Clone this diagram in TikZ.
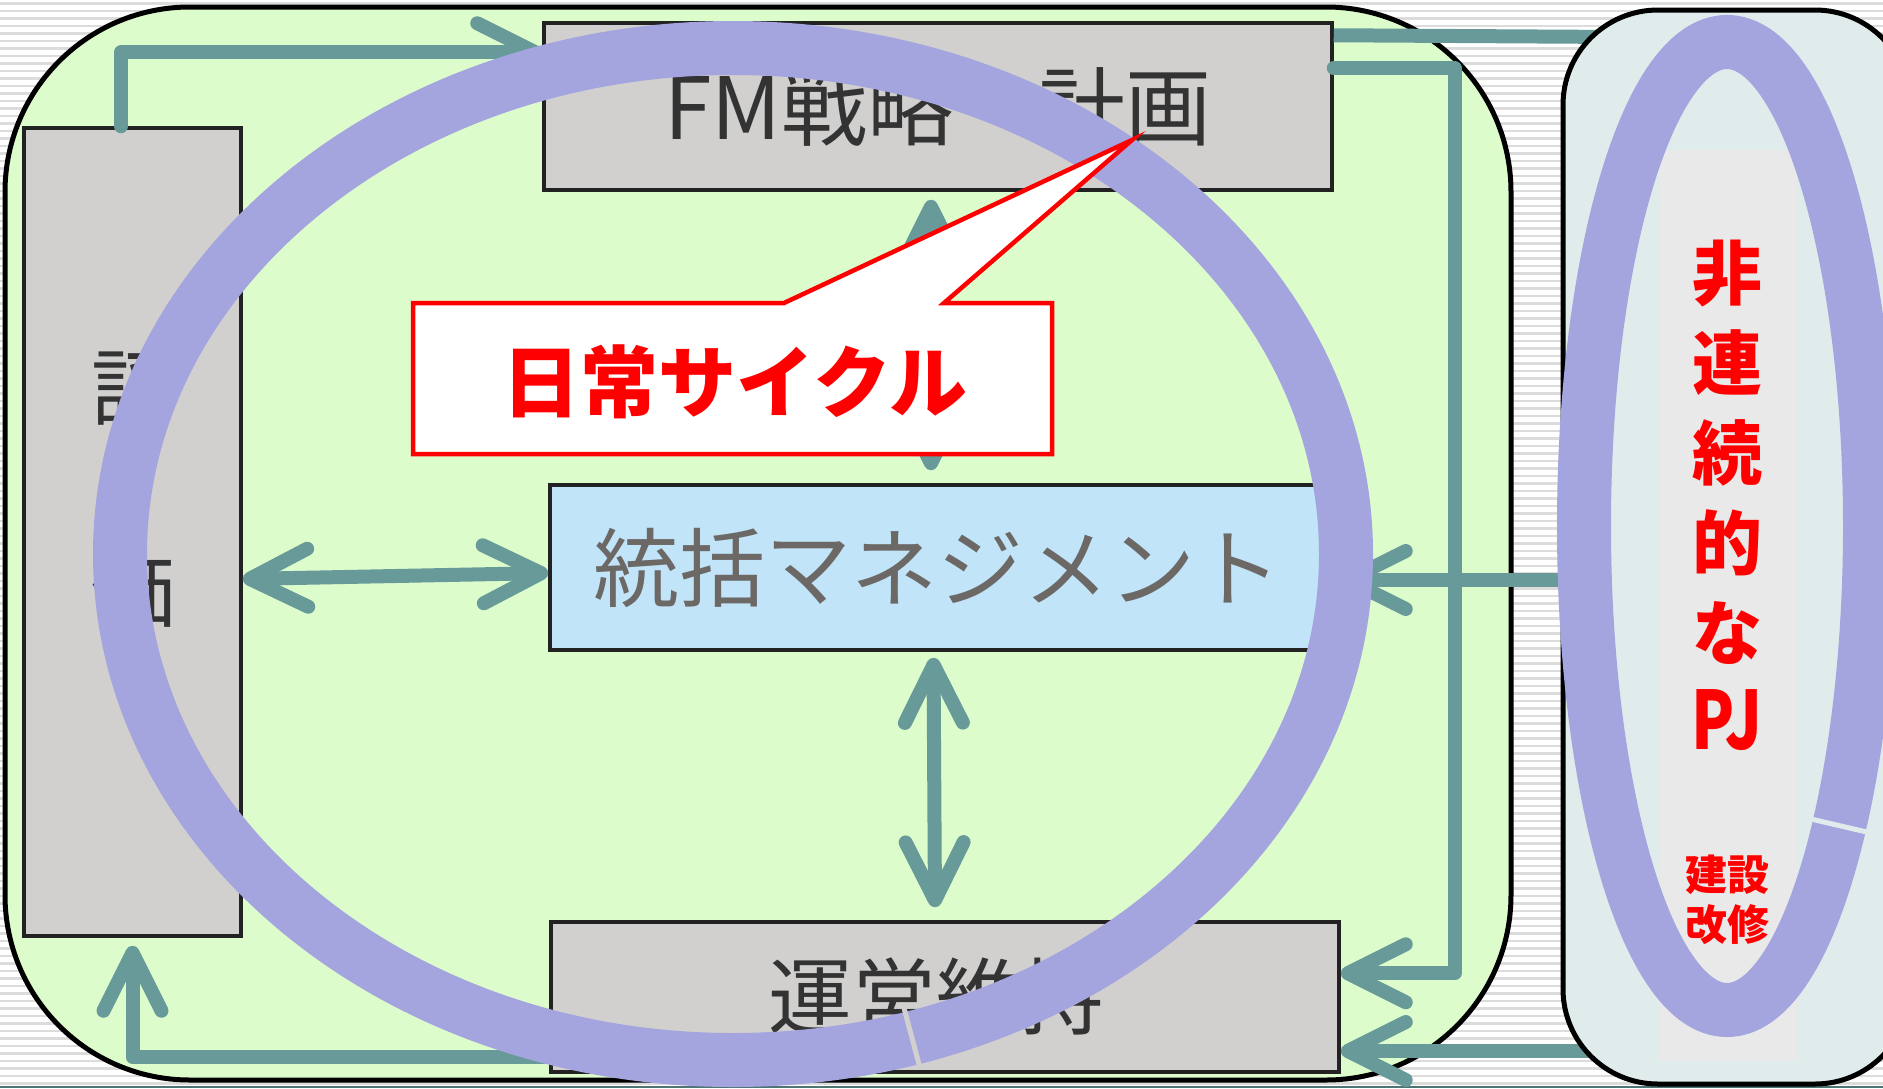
\documentclass[tikz,border=0pt]{standalone}
\usepackage{fontspec}
\usepackage{graphicx}
\newfontfamily\jp{Noto Sans CJK JP}
\usetikzlibrary{arrows.meta}
\definecolor{bggreen}{HTML}{DDFCCC}
\definecolor{boxgray}{HTML}{D1D0CF}
\definecolor{boxblue}{HTML}{C1E4F8}
\definecolor{pjbox}{HTML}{E0ECEB}
\definecolor{pjinner}{HTML}{E9E9E9}
\definecolor{ringc}{HTML}{A4A4DF}
\definecolor{tealc}{HTML}{689A9A}
\definecolor{txtdark}{HTML}{333333}
\definecolor{txtgray}{HTML}{6B6866}
\definecolor{stripe}{HTML}{DCDCDC}
\definecolor{redc}{HTML}{FF0000}
\definecolor{edge}{HTML}{222222}
\begin{document}
\begin{tikzpicture}[x=1pt,y=-1pt,
  box/.style={draw=edge, line width=3.5pt, fill=boxgray, inner sep=0pt, text=txtdark},
  conn/.style={draw=tealc, line width=14pt, line cap=round, line join=round},
  ringline/.style={draw=ringc, line width=54pt},
  >={Straight Barb[length=58pt,width=58pt,round]}]

\useasboundingbox (0,0) rectangle (1883,1088);
\fill[white] (0,0) rectangle (1883,1088);
\foreach \k in {0,...,144} { \fill[stripe] (0,{2+7.5*\k}) rectangle (1883,{4.7+7.5*\k}); }
\draw[tealc!75!black, line width=2.5pt] (0,1087) -- (1883,1087);

% main green frame
\draw[line width=5pt, fill=bggreen, rounded corners=185pt] (5,7) rectangle (1511,1080);

% boxes
\node[box, minimum width=217pt, minimum height=808pt] (hyoka) at (132.5,532) {};
\node[font=\jp\fontsize{84}{203}\selectfont, text=txtdark, align=center, inner sep=0pt] (hyokatxt) at (133,490) {評\\価};
\node[box, minimum width=788pt, minimum height=167pt, font=\jp\fontsize{86}{86}\selectfont] (fm) at (938,106.5) {FM戦略・計画};
\node[box, fill=boxblue, text=txtgray, minimum width=789pt, minimum height=165pt, font=\jp\fontsize{86}{86}\selectfont] (tokatsu) at (944.5,567.5) {\hspace*{-14pt}統括マネジメント};
\node[box, minimum width=788pt, minimum height=150pt, font=\jp\fontsize{84}{84}\selectfont] (unei) at (945,997) {\hspace*{-18pt}運営維持};

% connectors
\coordinate (p1) at (1620,37);
\coordinate (p2) at (1620,580);
\coordinate (p3) at (1620,1051);
\draw[conn,->] ([xshift=-11.5pt]hyoka.north) |- ([yshift=-31pt]fm.north east -| fm.west);
\draw[conn, line cap=butt] ([yshift=-14pt]fm.north east) -- (p1);
\draw[conn,->] ([yshift=-47pt]fm.north east) -- ++(121,0) |- ([yshift=-53pt]unei.north east);
\draw[conn,->] (p2) -- ([yshift=-12.5pt]tokatsu.east);
\draw[conn,->] (p3) -- ([yshift=-54pt]unei.east);
\draw[conn,<->] ([yshift=-47pt]hyoka.east) -- ([yshift=-5.5pt]tokatsu.west);
\draw[conn,<->] ([xshift=-11pt,yshift=-6pt]tokatsu.south) -- ([xshift=-10pt,yshift=13pt]unei.north);
\draw[conn,<->] ([xshift=-7pt,yshift=-8pt]fm.south) -- ([xshift=-13.5pt,yshift=13pt]tokatsu.north);
\draw[conn,->] ([yshift=-60pt]unei.west) -| ([yshift=-8pt]hyoka.south);

% right project box
\draw[line width=5pt, fill=pjbox, rounded corners=95pt] (1563,10) rectangle (1910,1084);
\fill[pjinner] (1660,150) rectangle (1797,1061);
\node[font=\jp\bfseries\fontsize{70}{90}\selectfont, text=redc, align=center, inner sep=0pt] (pj) at (1727,495) {非\\連\\続\\的\\な\\\scalebox{0.9}[1.15]{PJ}};
\node[font=\jp\bfseries\fontsize{42}{50}\selectfont, text=redc, align=center, inner sep=0pt] (kensetsu) at (1727,900) {建設\\改修};

% rings
\draw[ringline] (733,554) ellipse [x radius=613, y radius=506];
\draw[ringline] (1727,526) ellipse [x radius=143, y radius=484];
\draw[boxgray, line width=5pt] (904,1008) -- (920,1068);
\draw[pjbox, line width=5pt] (1811,819) -- (1871,833);

% callout
\coordinate (tip) at (1132,140);
\draw[draw=redc, fill=white, line width=4.5pt] (413,303) -- (784,303) -- (tip) -- (944,303) -- (1052,303) -- (1052,454) -- (413,454) -- cycle;
\node[font=\jp\bfseries\fontsize{78}{78}\selectfont, text=redc, inner sep=0pt] (nichijo) at (735,382) {日常サイクル};
\end{tikzpicture}
\end{document}
